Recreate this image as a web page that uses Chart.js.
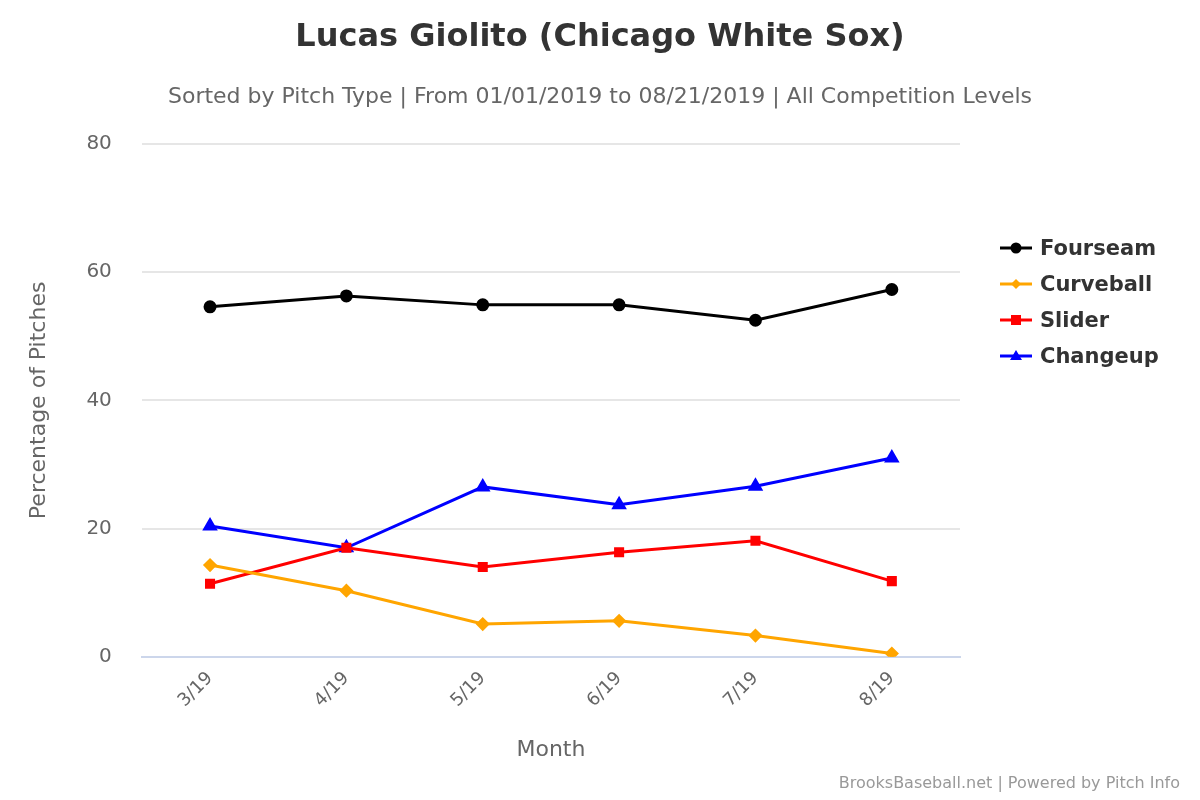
<!DOCTYPE html>
<html>
<head>
<meta charset="utf-8">
<script src="https://cdn.jsdelivr.net/npm/chart.js@4"></script>
<style>
  html, body { margin: 0; padding: 0; background: #fff; }
  #wrap { position: relative; width: 1200px; height: 800px; font-family: "DejaVu Sans", sans-serif; }
  #title { position: absolute; left: 0; width: 1200px; top: 16px; text-align: center; font-size: 32px; font-weight: bold; color: #333; }
  #subtitle { position: absolute; left: 0; width: 1200px; top: 83px; text-align: center; font-size: 22px; color: #666; }
  #credit { position: absolute; right: 20px; bottom: 8px; font-size: 16px; color: #999; }
  #legend { position: absolute; left: 1000px; top: 230px; }
  .item { display: flex; align-items: center; height: 36px; font-size: 21px; font-weight: bold; color: #333; }
  .item svg { margin-right: 8px; }
</style>
</head>
<body>
<div id="wrap">
  <canvas id="chart" width="1200" height="800"></canvas>
  <div id="title">Lucas Giolito (Chicago White Sox)</div>
  <div id="subtitle">Sorted by Pitch Type | From 01/01/2019 to 08/21/2019 | All Competition Levels</div>
  <div id="legend"></div>
  <div id="credit">BrooksBaseball.net | Powered by Pitch Info</div>
</div>
<script>
// Months and percentage of pitches per type
const months = ["3/19", "4/19", "5/19", "6/19", "7/19", "8/19"];
const fourseam = [54.6, 56.3, 54.9, 54.9, 52.5, 57.3];
const curveball = [14.3, 10.3, 5.1, 5.6, 3.3, 0.5];
const slider = [11.4, 17.0, 14.0, 16.3, 18.1, 11.8];
const changeup = [20.4, 17.0, 26.5, 23.7, 26.6, 31.0];

const font = "'DejaVu Sans', sans-serif";

const series = [
    { label: 'Fourseam', data: fourseam, color: '#000', style: 'circle', r: 5 },
    { label: 'Curveball', data: curveball, color: '#ffa500', style: 'rectRot', r: 5 },
    { label: 'Slider', data: slider, color: '#ff0000', style: 'rect', r: 5 },
    { label: 'Changeup', data: changeup, color: '#0000ff', style: 'triangle', r: 6 }
];

// custom legend: short line with marker in the middle
const markers = {
    circle: c => `<circle cx="16" cy="10" r="5.5" fill="${c}"/>`,
    rectRot: c => `<polygon points="16,5 21,10 16,15 11,10" fill="${c}"/>`,
    rect: c => `<rect x="11" y="5" width="10" height="10" fill="${c}"/>`,
    triangle: c => `<polygon points="16,4 22,14 10,14" fill="${c}"/>`
};
document.getElementById('legend').innerHTML = series.map(s =>
    `<div class="item"><svg width="32" height="20"><line x1="0" y1="10" x2="32" y2="10" stroke="${s.color}" stroke-width="3"/>${markers[s.style](s.color)}</svg>${s.label}</div>`
).join('');

new Chart(document.getElementById('chart'), {
    type: 'line',
    data: {
        labels: months,
        datasets: series.map(s => ({
            label: s.label, data: s.data, borderColor: s.color, backgroundColor: s.color,
            pointStyle: s.style, pointRadius: s.r, borderWidth: 3
        }))
    },
    options: {
        responsive: false,
        animation: false,
        layout: { padding: { left: 22, right: 240, top: 144, bottom: 33 } },
        plugins: {
            legend: { display: false }
        },
        scales: {
            x: {
                offset: true,
                title: { display: true, text: 'Month', color: '#666', font: { family: font, size: 22 }, padding: { top: 22 } },
                ticks: { color: '#666', font: { family: font, size: 18 }, maxRotation: 45, minRotation: 45 },
                grid: { display: false },
                border: { color: '#ccd6eb', width: 2 }
            },
            y: {
                min: 0, max: 80,
                title: { display: true, text: 'Percentage of Pitches', color: '#666', font: { family: font, size: 22 } },
                ticks: { stepSize: 20, color: '#666', font: { family: font, size: 20 }, padding: 30 },
                grid: { color: '#e6e6e6', lineWidth: 2, drawTicks: false },
                border: { display: false }
            }
        }
    }
});
</script>
</body>
</html>
